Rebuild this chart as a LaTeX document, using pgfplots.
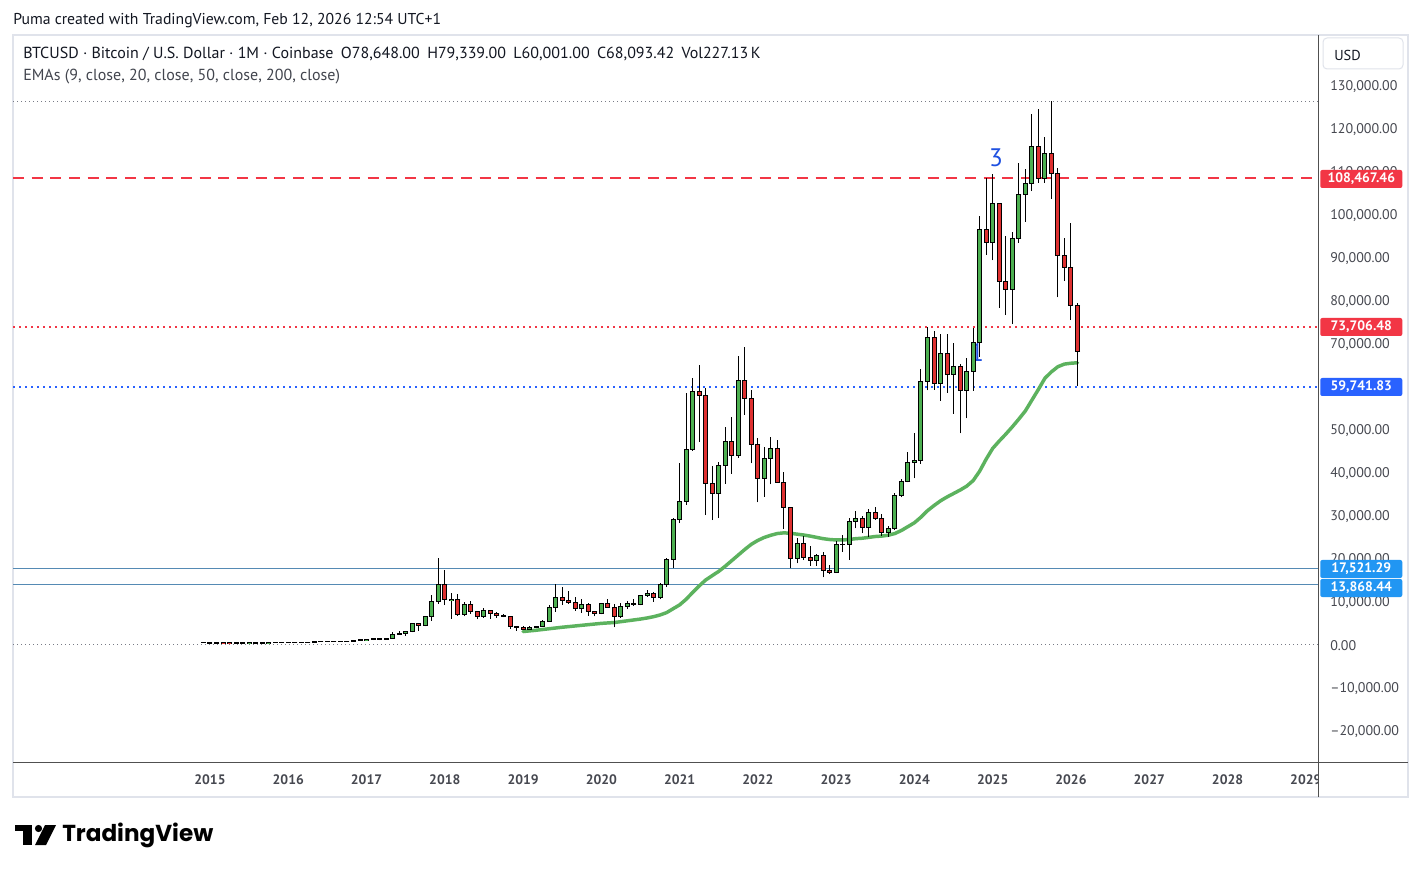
\documentclass[border=0pt]{standalone}
\usepackage{graphicx}
\usepackage{pgfplots}
\usepackage{pgfplotstable}
\pgfplotsset{compat=1.18}
\usepackage{fontspec}
\setmainfont{PT Sans}
\newfontfamily\logofont{Poppins}
\definecolor{cgreen}{RGB}{76,175,80}
\definecolor{cred}{RGB}{222,48,48}
\definecolor{emagreen}{RGB}{92,178,94}
\definecolor{tvred}{RGB}{242,54,69}
\definecolor{tvblue}{RGB}{41,98,255}
\definecolor{tvlblue}{RGB}{33,150,243}
\definecolor{txt}{RGB}{19,23,34}
\definecolor{ticktxt}{RGB}{70,72,80}
\definecolor{framegray}{RGB}{224,227,235}
\definecolor{axgray}{RGB}{80,80,80}
\definecolor{dotgray}{RGB}{120,123,134}
\definecolor{wave}{RGB}{30,80,225}

\pgfplotstableread{
m o h l c
-1 378 380 300 320
0 320 320 166 217
1 217 265 212 254
2 254 300 236 244
3 244 261 214 236
4 236 247 228 230
5 230 268 220 263
6 263 315 253 284
7 284 285 198 230
8 230 244 225 236
9 236 336 236 314
10 314 502 300 378
11 378 467 347 430
12 430 462 353 368
13 368 440 365 437
14 437 440 391 416
15 416 467 415 448
16 448 552 436 531
17 531 780 525 673
18 673 704 606 624
19 624 626 470 575
20 575 616 570 609
21 609 740 605 698
22 698 755 680 742
23 742 979 740 963
24 963 1150 752 970
25 970 1210 920 1190
26 1190 1290 891 1080
27 1080 1350 1070 1348
28 1348 2790 1348 2300
29 2300 3000 2100 2480
30 2480 2950 1830 2875
31 2875 4850 2680 4735
32 4735 5000 2970 4340
33 4340 6470 4100 6450
34 6450 11400 5400 9950
35 9950 19891 9380 13880
36 13880 17252 9035 10265
37 10265 11790 5873 10325
38 10325 11700 6600 6925
39 6925 9750 6430 9245
40 9245 9990 7032 7495
41 7495 7775 5750 6390
42 6390 8490 6070 7730
43 7730 7760 5880 7030
44 7030 7410 6100 6630
45 6630 6890 6200 6370
46 6370 6550 3600 4040
47 4040 4240 3120 3740
48 3740 4110 3350 3460
49 3460 4200 3390 3830
50 3830 4140 3740 4100
51 4100 5630 4080 5350
52 5350 9100 5330 8570
53 8570 13880 7450 10820
54 10820 13200 9100 10090
55 10090 12330 9320 9600
56 9600 10920 7730 8300
57 8300 10500 7300 9150
58 9150 9500 6520 7550
59 7550 7750 6400 7190
60 7190 9600 6870 9350
61 9350 10520 8450 8540
62 8540 9190 3850 6420
63 6420 9460 6150 8630
64 8630 10070 8120 9450
65 9450 10400 8900 9140
66 9140 11450 8990 11340
67 11340 12470 10950 11660
68 11660 12070 9880 10780
69 10780 14100 10360 13800
70 13800 19920 13200 19700
71 19700 29300 17600 28990
72 28990 41990 28130 33100
73 33100 58350 32400 45190
74 45190 61790 45000 58800
75 58800 64900 47000 57720
76 57720 59600 30000 37300
77 37300 41300 28800 35040
78 35040 42400 29300 41460
79 41460 50500 37300 47100
80 47100 52900 39600 43830
81 43830 67000 43300 61300
82 61300 69000 53300 57000
83 57000 59100 42000 46300
84 46300 47990 32950 38480
85 38480 45800 34300 43190
86 43190 48200 37150 45530
87 45530 47450 37550 37640
88 37640 39900 26700 31800
89 31800 31900 17600 19940
90 19940 24680 18780 23290
91 23290 25200 19520 20050
92 20050 22800 18150 19430
93 19430 21000 18200 20490
94 20490 21480 15480 17170
95 17170 18400 16260 16540
96 16540 23960 16500 23130
97 23130 25250 21400 23150
98 23150 29200 19570 28470
99 28470 31000 26900 29250
100 29250 29800 25800 27200
101 27200 31400 24800 30470
102 30470 31800 28900 29230
103 29230 30200 25150 25940
104 25940 27500 24900 26960
105 26960 35200 26550 34640
106 34640 38400 34100 37720
107 37720 44700 37600 42280
108 42280 48970 38500 42580
109 42580 64000 41900 61130
110 61130 73800 59000 71290
111 71290 72800 59100 60650
112 60650 71980 56550 67500
113 67500 72000 58400 62700
114 62700 70000 53500 64600
115 64600 65100 49000 58970
116 58970 66500 52500 63300
117 63300 73600 58900 70200
118 70200 99600 66800 96400
119 96400 108300 90500 93400
120 93400 109400 89200 102400
121 102400 102500 78200 84350
122 84350 95000 76500 82500
123 82500 95800 74400 94200
124 94200 111900 93300 104600
125 104600 110500 98200 107100
126 107100 123200 105300 115700
127 115700 124500 107300 108200
128 108200 117900 107300 114000
129 114000 126200 103500 109500
130 109500 110600 80600 90400
131 90400 94500 84400 87600
132 87600 97900 75300 78650
133 78648 79339 60001 68093.42
}\btc

\newcommand\plabel[3]{\node[fill=#2, text=white, font=\bfseries\fontsize{10.3pt}{11pt}\selectfont, anchor=west, minimum width=61.5pt, minimum height=13.5pt, inner sep=0pt, rounded corners=1.5pt] at (1320,#1) {#3};}

\begin{document}
\begin{tikzpicture}[x=0.75pt,y=0.75pt]
\useasboundingbox (0,0) rectangle (1421,872);
\fill[white] (0,0) rectangle (1421,872);
\draw[framegray, line width=1.5pt] (13,75) rectangle (1408,837);
\node[anchor=west, inner sep=0pt, font=\fontsize{11.8pt}{13pt}\selectfont, text=txt] at (13,851) {Puma created with TradingView.com, Feb 12, 2026 12:54 UTC+1};
% wave label 1 (mostly hidden behind candles)
\node[font=\fontsize{19pt}{21pt}\selectfont, text=wave] at (977,520) {1};

\begin{axis}[
  at={(9.75pt,82.5pt)}, anchor=south west,
  scale only axis, width=978.75pt, height=545.25pt,
  xmin=-30.2, xmax=169.87, ymin=-27440, ymax=141630,
  scaled y ticks=false, scaled x ticks=false,
  axis line style={draw=none}, major tick length=0pt,
  xtick={0,12,...,168},
  xticklabels={2015,2016,2017,2018,2019,2020,2021,2022,2023,2024,2025,2026,2027,2028,2029},
  xticklabel style={anchor=center, yshift=-13.2pt, font=\bfseries\fontsize{10.3pt}{11pt}\selectfont, text=ticktxt},
  ytick={-20000,-10000,0,10000,20000,30000,40000,50000,70000,80000,90000,100000,110000,120000,130000},
  yticklabels={{–20,000.00},{–10,000.00},{0.00},{10,000.00},{20,000.00},{30,000.00},{40,000.00},{50,000.00},{70,000.00},{80,000.00},{90,000.00},{100,000.00},{110,000.00},{120,000.00},{130,000.00}},
  yticklabel pos=right,
  yticklabel style={anchor=west, inner xsep=0pt, xshift=9pt, yshift=-1.3pt, font=\fontsize{10.5pt}{11pt}\selectfont, text=ticktxt},
  clip=true,
]
% horizontal reference lines
\addplot[dotgray, line width=0.75pt, dash pattern=on 0.75pt off 2.25pt, forget plot] coordinates {(-40,126050) (180,126050)};
\addplot[dotgray, line width=0.75pt, dash pattern=on 0.75pt off 2.25pt, forget plot] coordinates {(-40,0) (180,0)};
\addplot[tvred, line width=1.5pt, dash pattern=on 8.25pt off 5.75pt, forget plot] coordinates {(-30.2,108467.46) (180,108467.46)};
\addplot[tvred, line width=1.5pt, dash pattern=on 1.5pt off 3pt, forget plot] coordinates {(-30.2,73706.48) (180,73706.48)};
\addplot[tvblue, line width=1.5pt, dash pattern=on 1.5pt off 3pt, forget plot] coordinates {(-30.2,59741.83) (180,59741.83)};
\addplot[tvlblue!45!gray, line width=0.75pt, forget plot] coordinates {(-40,17521.29) (180,17521.29)};
\addplot[tvlblue!45!gray, line width=0.75pt, forget plot] coordinates {(-40,13868.44) (180,13868.44)};
% EMA 50
\addplot[emagreen, line width=2.6pt, line join=round, line cap=round, forget plot] coordinates {
(48,2900) (50,3200) (52,3550) (54,3900) (56,4200) (58,4500) (60,4800) (62,5000) (64,5400) (66,5800) (67,6050) (68,6350) (69,6750) (70,7300) (71,8200) (72,9100) (73,10400) (74,12000) (75,13500) (76,14900) (77,15900) (78,16900) (79,18100) (80,19400) (81,20700) (82,22000) (83,23200) (84,24100) (85,24800) (86,25300) (87,25700) (88,25850) (89,25750) (90,25550) (91,25350) (92,25100) (93,24800) (94,24500) (95,24300) (96,24200) (97,24200) (98,24300) (99,24500) (100,24600) (101,24800) (102,25000) (103,25100) (104,25300) (105,25700) (106,26400) (107,27300) (108,28200) (109,29500) (110,31000) (111,32200) (112,33300) (113,34200) (114,35000) (115,35800) (116,36700) (117,38000) (118,40200) (119,43000) (120,45500) (121,47200) (122,48800) (123,50500) (124,52300) (125,54200) (126,56700) (127,59200) (128,61800) (129,63300) (130,64500) (131,65100) (132,65300) (133,65400)};
% wicks
\addplot[draw=none, mark=none, forget plot, error bars/.cd, y dir=both, y explicit, error mark=none,
  error bar style={draw=black, line width=0.75pt}]
  table[x=m, y=l, y error plus expr={\thisrow{h}-\thisrow{l}}, y error minus expr=0] {\btc};
% body outline
\addplot[draw=none, mark=none, forget plot, error bars/.cd, y dir=both, y explicit, error mark=none,
  error bar style={draw=black, line width=3.75pt}]
  table[x=m, y expr={min(\thisrow{o},\thisrow{c})}, y error plus expr={abs(\thisrow{c}-\thisrow{o})}, y error minus expr=0] {\btc};
% green bodies
\addplot[draw=none, mark=none, forget plot, error bars/.cd, y dir=both, y explicit, error mark=none,
  error bar style={draw=cgreen, line width=2.25pt}]
  table[x=m, y expr={\thisrow{c}>=\thisrow{o} ? \thisrow{o} : nan}, y error plus expr={\thisrow{c}-\thisrow{o}}, y error minus expr=0] {\btc};
% red bodies
\addplot[draw=none, mark=none, forget plot, error bars/.cd, y dir=both, y explicit, error mark=none,
  error bar style={draw=cred, line width=2.25pt}]
  table[x=m, y expr={\thisrow{c}<\thisrow{o} ? \thisrow{c} : nan}, y error plus expr={\thisrow{o}-\thisrow{c}}, y error minus expr=0] {\btc};
% body caps
\addplot[only marks, mark=-, mark size=1.875pt, mark options={line width=0.75pt, black}, forget plot] table[x=m, y=o] {\btc};
\addplot[only marks, mark=-, mark size=1.875pt, mark options={line width=0.75pt, black}, forget plot] table[x=m, y=c] {\btc};
\end{axis}

% cover clipped 2029 in price scale column
\fill[white] (1319,76) rectangle (1407,109);
\draw[axgray, line width=0.75pt] (13,110) -- (1408,110);
\draw[axgray, line width=0.75pt] (1318,75) -- (1318,837);

% wave label 3
\node[font=\fontsize{19pt}{21pt}\selectfont, text=wave] at (996,714) {3};

% legend
\node[anchor=west, inner sep=0pt, font=\fontsize{12pt}{13pt}\selectfont, text=txt] at (23,817.5) {BTCUSD · Bitcoin / U.S. Dollar · 1M · Coinbase\hspace{5.5pt}O78,648.00\hspace{5.5pt}H79,339.00\hspace{5.5pt}L60,001.00\hspace{5.5pt}C68,093.42\hspace{5.5pt}Vol227.13\,K};
\node[anchor=west, inner sep=0pt, font=\fontsize{12pt}{13pt}\selectfont, text=txt!80!white] at (23,795.5) {EMAs (9, close, 20, close, 50, close, 200, close)};

% USD box
\draw[framegray, line width=0.75pt, rounded corners=3pt, fill=white] (1323,803) rectangle (1403,834);
\node[anchor=west, inner sep=0pt, font=\fontsize{10.8pt}{12pt}\selectfont, text=txt] at (1334,817) {USD};

% price labels
\plabel{693}{tvred}{108,467.46}
\plabel{545}{tvred}{73,706.48}
\plabel{485}{tvblue}{59,741.83}
\plabel{303}{tvlblue}{17,521.29}
\plabel{284}{tvlblue}{13,868.44}

% TradingView logo
\fill[black] (15,47) rectangle (32,41);
\fill[black] (23,47) rectangle (32,27);
\fill[black] (38.5,43.5) circle (3.6);
\fill[black] (45,47) -- (56,47) -- (46,27) -- (35,27) -- cycle;
\node[anchor=west, inner sep=0pt] at (62,37) {\resizebox{113.25pt}{!}{\logofont\bfseries TradingView}};
\end{tikzpicture}
\end{document}
